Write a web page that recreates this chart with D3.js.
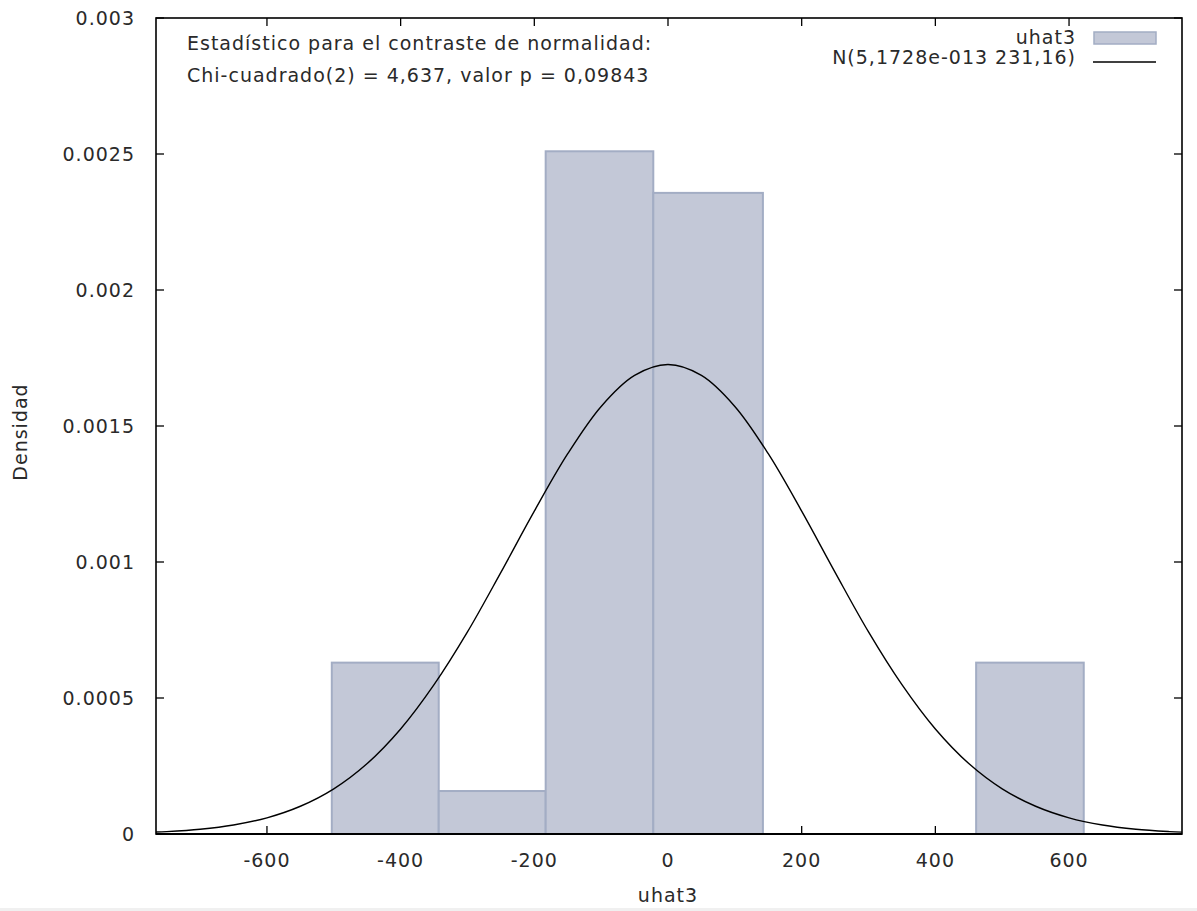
<!DOCTYPE html>
<html>
<head>
<meta charset="utf-8">
<script src="https://cdn.jsdelivr.net/npm/d3@7"></script>
<style>
  body { margin: 0; background: #fff; }
  text { font-family: "DejaVu Sans", sans-serif; fill: #2a2a2a; font-size: 19px; letter-spacing: 1px; }
</style>
</head>
<body>
<div id="chart"></div>
<script>
// histogram bins (edges) and densities of uhat3
var binEdges = [-503, -343, -183, -22, 142, 301, 461, 622];
var densities = [0.00063, 0.000158, 0.00251, 0.002357, 0, 0, 0.00063];

// normal curve N(5,1728e-013 231,16)
var curveX = [-766, -750, -700, -650, -600, -550, -500, -450, -400, -350, -300, -250, -200, -150, -100, -50, 0,
  50, 100, 150, 200, 250, 300, 350, 400, 450, 500, 550, 600, 650, 700, 750, 769];
var curveY = [0.0000072, 0.0000089, 0.0000176, 0.0000331, 0.0000595, 0.000102, 0.000166, 0.000259, 0.000386,
  0.000549, 0.000743, 0.000962, 0.001187, 0.001398, 0.001572, 0.001686, 0.001726,
  0.001686, 0.001572, 0.001398, 0.001187, 0.000962, 0.000743, 0.000549, 0.000386, 0.000259, 0.000166,
  0.000102, 0.0000595, 0.0000331, 0.0000176, 0.0000089, 0.0000068];

var xTicks = [-600, -400, -200, 0, 200, 400, 600];
var yTicks = [0, 0.0005, 0.001, 0.0015, 0.002, 0.0025, 0.003];

var statLines = ["Estadístico para el contraste de normalidad:",
  "Chi-cuadrado(2) = 4,637, valor p = 0,09843"];
var legendLabels = ["uhat3", "N(5,1728e-013 231,16)"];

var svgWidth = 1197;
var svgHeight = 911;

var margin = {top: 18, right: 15, bottom: 77, left: 156};
var width = svgWidth - margin.left - margin.right;
var height = svgHeight - margin.top - margin.bottom;

var svg = d3.select("#chart")
  .append("svg")
  .attr("width", svgWidth)
  .attr("height", svgHeight);

var chartGroup = svg.append("g")
  .attr("transform", `translate(${margin.left}, ${margin.top})`);

var xScale = d3.scaleLinear().domain([-766, 769]).range([0, width]);
var yScale = d3.scaleLinear().domain([0, 0.003]).range([height, 0]);

// ticks (inward, mirrored)
var tickLen = 8;
var tickG = chartGroup.append("g").attr("stroke", "#000").attr("stroke-width", 1.3);
xTicks.forEach(function(t) {
  tickG.append("line").attr("x1", xScale(t)).attr("x2", xScale(t))
    .attr("y1", height).attr("y2", height - tickLen);
  tickG.append("line").attr("x1", xScale(t)).attr("x2", xScale(t))
    .attr("y1", 0).attr("y2", tickLen);
});
yTicks.forEach(function(t) {
  tickG.append("line").attr("x1", 0).attr("x2", tickLen)
    .attr("y1", yScale(t)).attr("y2", yScale(t));
  tickG.append("line").attr("x1", width).attr("x2", width - tickLen)
    .attr("y1", yScale(t)).attr("y2", yScale(t));
});

// bars
var bins = densities.map(function(d, i) {
  return {x0: binEdges[i], x1: binEdges[i + 1], y: d};
});
chartGroup.append("g").selectAll("rect")
  .data(bins)
  .enter()
  .append("rect")
  .attr("x", d => xScale(d.x0))
  .attr("y", d => yScale(d.y))
  .attr("width", d => xScale(d.x1) - xScale(d.x0))
  .attr("height", d => yScale(0) - yScale(d.y))
  .attr("fill", "#c3c8d7")
  .attr("stroke", "#a3adc4")
  .attr("stroke-width", 2);

// normal curve
var pts = curveX.map((x, i) => [x, curveY[i]]);
var line = d3.line()
  .x(d => xScale(d[0]))
  .y(d => yScale(d[1]))
  .curve(d3.curveCatmullRom);
chartGroup.append("path")
  .datum(pts)
  .attr("d", line)
  .attr("fill", "none")
  .attr("stroke", "#000")
  .attr("stroke-width", 1.4);

// frame
chartGroup.append("rect")
  .attr("width", width).attr("height", height)
  .attr("fill", "none").attr("stroke", "#000").attr("stroke-width", 1.6);
chartGroup.append("line")
  .attr("x1", 0).attr("x2", width).attr("y1", height).attr("y2", height)
  .attr("stroke", "#000").attr("stroke-width", 2.2);

// tick labels
chartGroup.append("g").selectAll("text")
  .data(xTicks)
  .enter()
  .append("text")
  .attr("x", d => xScale(d))
  .attr("y", height + 33)
  .attr("text-anchor", "middle")
  .text(d => d);

chartGroup.append("g").selectAll("text")
  .data(yTicks)
  .enter()
  .append("text")
  .attr("x", -21)
  .attr("y", d => yScale(d))
  .attr("dy", "0.35em")
  .attr("text-anchor", "end")
  .text(d => String(d));

// axis titles
svg.append("text")
  .attr("x", margin.left + xScale(0))
  .attr("y", 902)
  .attr("text-anchor", "middle")
  .text("uhat3");

svg.append("text")
  .attr("transform", "translate(27, 432) rotate(-90)")
  .attr("text-anchor", "middle")
  .text("Densidad");

// statistic text
svg.append("g").selectAll("text")
  .data(statLines)
  .enter()
  .append("text")
  .attr("x", 187)
  .attr("y", (d, i) => 50 + i * 32)
  .text(d => d);

// legend
var legend = svg.append("g");
legend.selectAll("text")
  .data(legendLabels)
  .enter()
  .append("text")
  .attr("x", 1076)
  .attr("y", (d, i) => 44 + i * 20)
  .attr("text-anchor", "end")
  .text(d => d);
legend.append("rect")
  .attr("x", 1094).attr("y", 32).attr("width", 62).attr("height", 12)
  .attr("fill", "#c3c8d7").attr("stroke", "#a3adc4").attr("stroke-width", 1.5);
legend.append("line")
  .attr("x1", 1093).attr("x2", 1156).attr("y1", 62).attr("y2", 62)
  .attr("stroke", "#000").attr("stroke-width", 1.4);

// faint bottom border
svg.append("rect")
  .attr("x", 0).attr("y", 908).attr("width", svgWidth).attr("height", 3)
  .attr("fill", "#f0f0f0");
</script>
</body>
</html>
